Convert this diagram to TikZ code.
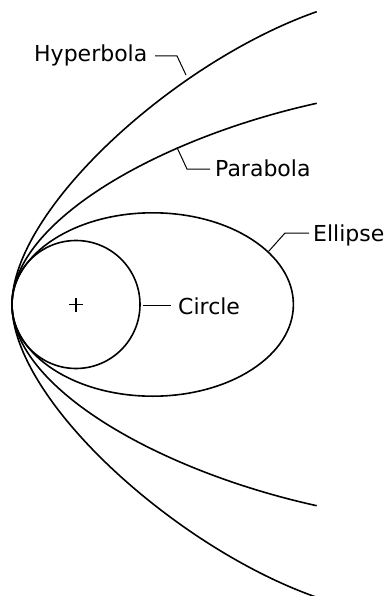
\documentclass[tikz,border=0pt]{standalone}
\usepackage{fontspec}
\setmainfont{DejaVu Sans}
\usetikzlibrary{shapes.geometric}
\begin{document}
\begin{tikzpicture}[x=1pt,y=-1pt,
  conic/.style={line width=1.6pt, line join=round},
  leader/.style={line width=1pt},
  lbl/.style={anchor=base west, inner sep=0pt, font=\fontsize{22}{26}\selectfont}]
\useasboundingbox (0,0) rectangle (388,596);
\coordinate (v) at (12,304.5);
% hyperbola
\coordinate (hypT) at (316.7,11.7);
\coordinate (hypB) at (316.7,597.3);
\draw[conic] (hypB) .. controls (175.1,547.6) and (12,399.5) .. (v)
  .. controls (12,209.5) and (175.1,61.4) .. (hypT);
% parabola
\coordinate (parT) at (316.7,103.3);
\coordinate (parB) at (316.7,505.7);
\draw[conic] (parB) .. controls (160.4,471.3) and (12,388) .. (v)
  .. controls (12,221) and (160.4,137.7) .. (parT);
% ellipse and circle
\node[draw, conic, ellipse, minimum width=281.4pt, minimum height=183.4pt, inner sep=0pt] (ell) at (152.7,304.5) {};
\node[draw, conic, circle, minimum size=128pt, inner sep=0pt] (cir) at (76,304.5) {};
% focus mark
\coordinate (foc) at (76,304.5);
\draw[line width=1.2pt] ([xshift=-7pt]foc) -- ([xshift=7pt]foc) ([yshift=-7pt]foc) -- ([yshift=7pt]foc);
% labels
\node[lbl] (hyplbl) at (34,62) {Hyperbola};
\node[lbl] (parlbl) at (215,176) {Parabola};
\node[lbl] (elllbl) at (313,241) {Ellipse};
\node[lbl] (cirlbl) at (178,314) {Circle};
% leaders
\coordinate (h1) at (155,56); \coordinate (h2) at (177,56); \coordinate (h3) at (186,75);
\draw[leader] (h1) -- (h2) -- (h3);
\coordinate (p1) at (210,169); \coordinate (p2) at (187,169); \coordinate (p3) at (177,147.5);
\draw[leader] (p1) -- (p2) -- (p3);
\coordinate (e1) at (309,233); \coordinate (e2) at (285,233); \coordinate (e3) at (268.5,251.5);
\draw[leader] (e1) -- (e2) -- (e3);
\coordinate (c1) at (143,305.5); \coordinate (c2) at (171,305.5);
\draw[leader] (c1) -- (c2);
\end{tikzpicture}
\end{document}
